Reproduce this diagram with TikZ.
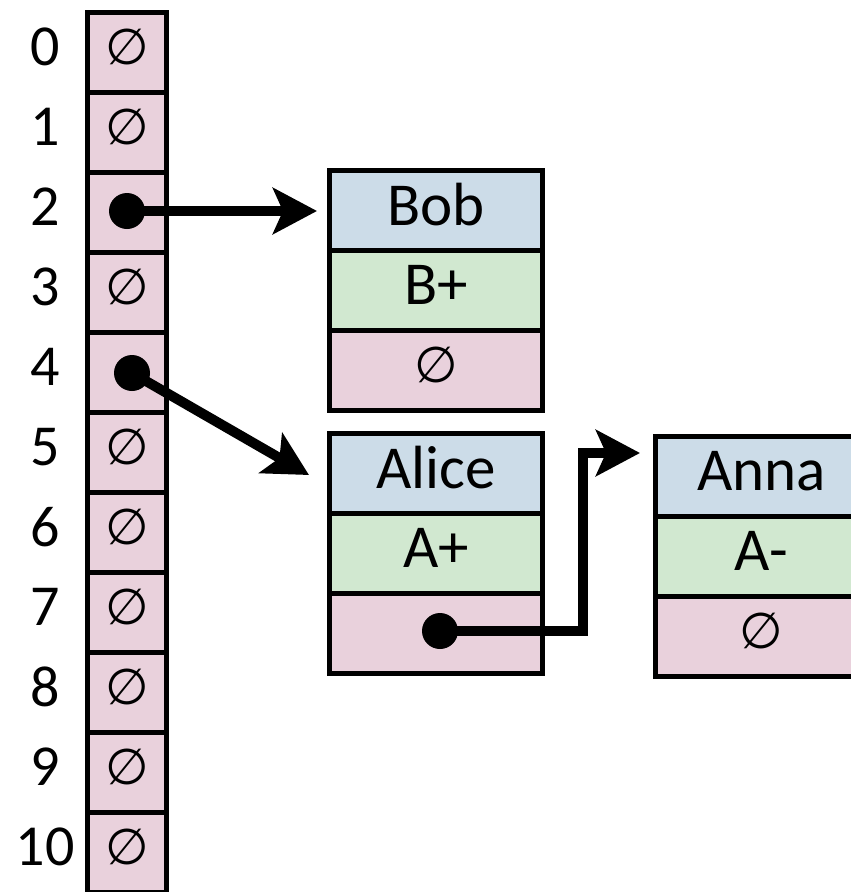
\documentclass[tikz,border=0pt]{standalone}
\usepackage{fontspec}
\setmainfont{Carlito}
\newfontfamily\symfont{DejaVu Sans}
\usetikzlibrary{arrows.meta}
\definecolor{cpink}{HTML}{E9D1DC}
\definecolor{cblue}{HTML}{CCDCE8}
\definecolor{cgreen}{HTML}{D1E8D0}
\newcommand\rz[1]{\raisebox{5pt}[\height][\depth]{#1}}
\begin{document}
\begin{tikzpicture}[x=1pt,y=-1pt,
  arr/.style={draw=black, line width=5pt, fill=cpink, minimum width=79pt, minimum height=80pt, inner sep=0pt, font=\fontsize{50}{50}\symfont},
  lbl/.style={inner sep=0pt, font=\fontsize{58}{58}\selectfont},
  fld/.style={draw=black, line width=5pt, minimum width=213pt, minimum height=80pt, inner sep=0pt, font=\fontsize{61}{61}\selectfont},
  namef/.style={fld, fill=cblue},
  gradef/.style={fld, fill=cgreen},
  nextf/.style={fld, fill=cpink, font=\fontsize{50}{50}\symfont},
  dotn/.style={circle, fill=black, minimum size=36pt, inner sep=0pt},
  ptr/.style={line width=10pt, -{Stealth[length=44pt,width=46pt,inset=10pt]}}
]
\useasboundingbox (0,0) rectangle (851,892);
\clip (0,0) rectangle (851,892);
% array
\foreach \i in {0,1,3,5,6,7,8,9,10}{
  \node[arr] (a\i) at (127,52+80*\i) {\rz{∅}};
}
\node[arr] (a2) at (127,212) {};
\node[arr] (a4) at (127,372) {};
\foreach \i in {0,...,10}{
  \node[lbl] (l\i) at (45,47+80*\i) {\i};
}
% Bob
\node[namef] (bob1) at (436,210) {\rz{Bob}};
\node[gradef] (bob2) at (436,290) {\rz{B+}};
\node[nextf] (bob3) at (436,370) {\rz{∅}};
% Alice
\node[namef] (ali1) at (436,473) {\rz{Alice}};
\node[gradef] (ali2) at (436,553) {\rz{A+}};
\node[nextf] (ali3) at (436,633) {};
% Anna
\node[namef] (ann1) at (761.5,476) {\rz{Anna}};
\node[gradef] (ann2) at (761.5,556) {\rz{A-}};
\node[nextf] (ann3) at (761.5,636) {\rz{∅}};
% pointers
\node[dotn] (d2) at (127,211) {};
\node[dotn] (d4) at (132,373) {};
\node[dotn] (d7) at (440,631) {};
\coordinate (t2) at (317,211);
\coordinate (t4) at (309,475);
\coordinate (bend) at (583,453);
\coordinate (t7) at (640,453);
\draw[ptr] (d2.center) -- (t2);
\draw[ptr] (d4.center) -- (t4);
\draw[ptr] (d7.center) -| (bend) -- (t7);
\end{tikzpicture}
\end{document}
